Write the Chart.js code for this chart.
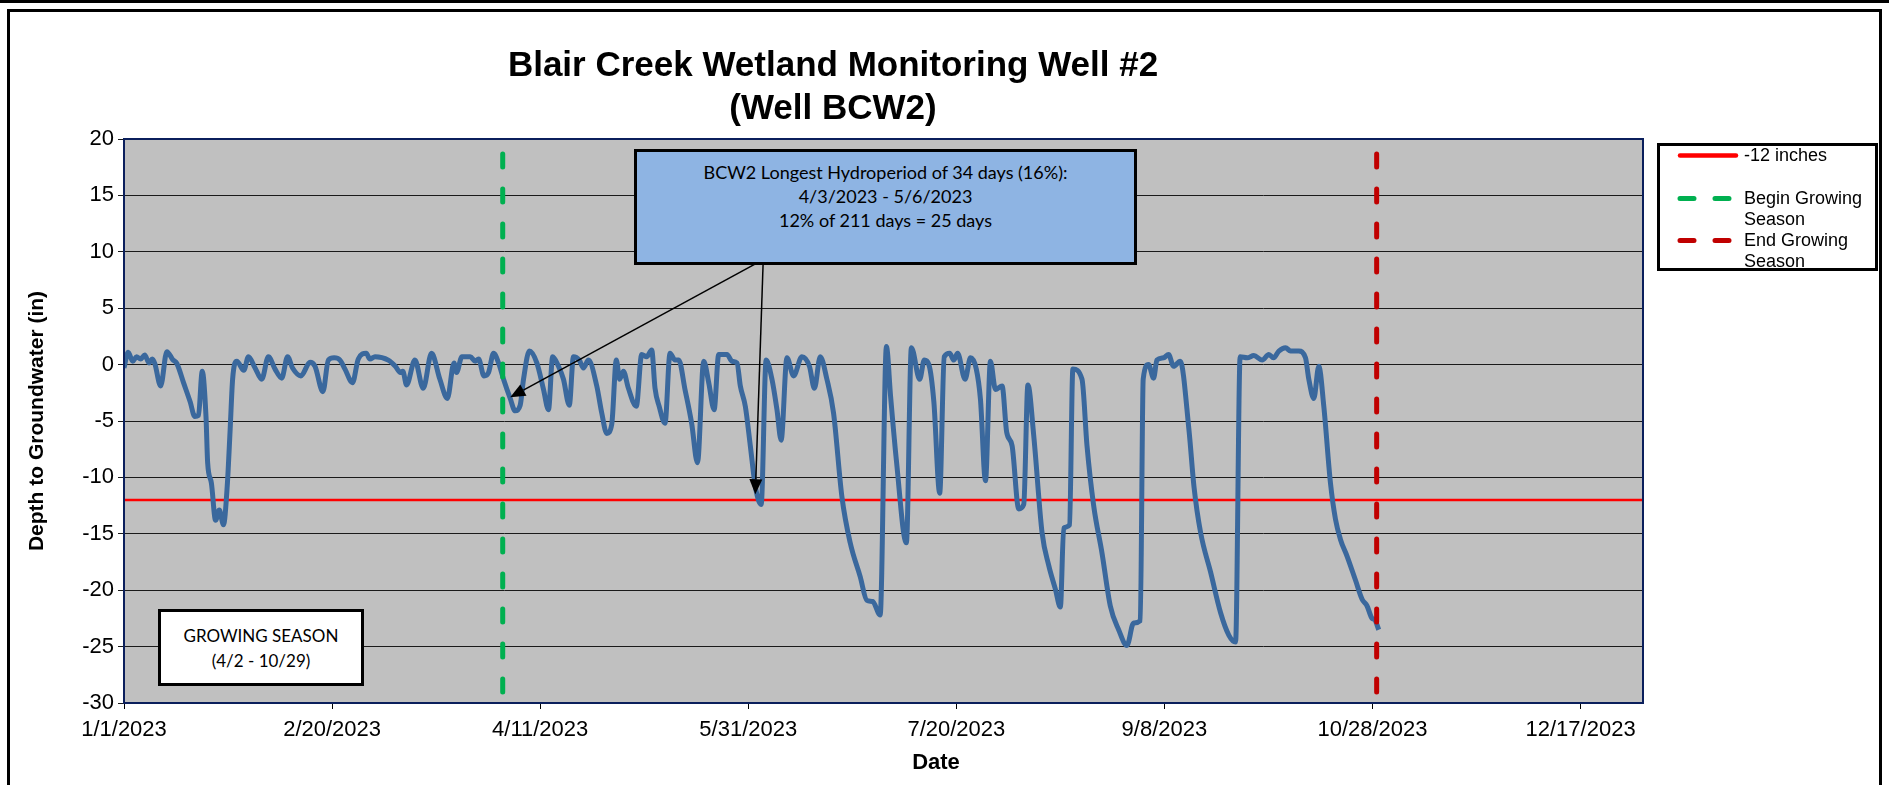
<!DOCTYPE html>
<html>
<head>
<meta charset="utf-8">
<title>Blair Creek Wetland Monitoring Well #2</title>
<script src="https://cdn.jsdelivr.net/npm/chart.js@4.4.1/dist/chart.umd.min.js"></script>
<style>
  html, body { margin: 0; padding: 0; background: #fff; overflow: hidden; }
  #wrap { position: relative; width: 1889px; height: 785px; }
  #chart { position: absolute; left: 0; top: 0; width: 1889px; height: 785px; }
  .ov { position: absolute; box-sizing: border-box; color: #000; }
  #topRule { left: 0; top: 0; width: 1889px; height: 3px; background: #000; }
  #frame { left: 7px; top: 9px; width: 1875px; height: 820px; border: 3px solid #000; }
  #title { left: 333px; top: 42px; width: 1000px; text-align: center;
           font: bold 35px/43px "Liberation Sans", Arial, sans-serif; }
  #callout { left: 634px; top: 149px; width: 503px; height: 116px; border: 3px solid #000;
             background: #8EB4E3; text-align: center; padding-top: 8px;
             font: 18px/24px Lato, "Open Sans", sans-serif; }
  #seasonBox { left: 158px; top: 609px; width: 206px; height: 77px; border: 3px solid #000;
               background: #fff; text-align: center; padding-top: 11px;
               font: 17px/25px Lato, "Open Sans", sans-serif; }
  #legend { left: 1657px; top: 143px; width: 221px; height: 128px; border: 3px solid #000; background: #fff; }
  .lg { position: absolute; left: 17px; font: 18px/21px "Liberation Sans", Arial, sans-serif; }
  .lg svg { position: absolute; left: 0; top: 0; }
  .lg span { position: absolute; left: 67px; top: 0; white-space: nowrap; }
  #xTitle { left: 886px; top: 749px; width: 100px; text-align: center;
            font: bold 22px/26px "Liberation Sans", Arial, sans-serif; }
</style>
</head>
<body>
<div id="wrap">
  <canvas id="chart" width="1889" height="785"></canvas>
  <div id="topRule" class="ov"></div>
  <div id="frame" class="ov"></div>
  <div id="title" class="ov"></div>
  <div id="callout" class="ov"></div>
  <div id="seasonBox" class="ov"></div>
  <div id="legend" class="ov"></div>
  <div id="xTitle" class="ov">Date</div>
</div>
<script>
// days since 1/1/2023 and depth to groundwater (in)
const baseDate = Date.UTC(2023, 0, 1);
const days = [
  0, 1, 2.1, 3, 4, 5, 6, 6.8, 7.4, 8.8, 10.3, 11.7, 12.7, 14.3, 15.9, 17, 17.9, 18.8, 19.7, 20.1,
  21, 22, 22.9, 23.9, 24.8, 25.5, 26.1, 27.1, 28.8, 29.9, 31.5, 33.1, 34.7, 36.3, 37.9, 39.3, 40.5, 42.5, 44.7, 45.9,
  47.8, 49.1, 50.5, 51.9, 53.1, 54.9, 56.3, 58.2, 59.1, 60.3, 63.5, 65.2, 66.4, 67, 67.9, 69.9, 71.9, 73.9, 75.9, 77.7,
  79.3, 79.9, 81.2, 83.2, 84.4, 85.2, 86.5, 87.6, 88.8, 90, 91.2, 92.8, 94, 95.2, 96, 97.4, 99.2, 100.8, 102, 103,
  104.4, 105.6, 107, 108, 109.4, 110.4, 111.6, 113.6, 114.8, 116, 117.2, 118.3, 119.1, 120, 121.2, 123.1, 124.4, 125.6, 126.8, 127.6,
  128.6, 130, 131.2, 132.4, 133.3, 134.8, 136.4, 137.8, 139.3, 140.5, 141.8, 142.9, 144.9, 146.1, 147.3, 148.1, 149.3, 150.5, 151.7, 153.1,
  154.3, 155.7, 156.9, 157.9, 159.3, 160.9, 162.9, 164.7, 165.9, 167.3, 168.9, 170.5, 172.5, 174.5, 176.9, 178.5, 179.9, 181.7, 183.2, 184.2,
  185.6, 188, 189.2, 191.2, 192.3, 193.4, 194.6, 196, 197.1, 198.4, 199.4, 200.3, 202.1, 203.4, 204.8, 205.8, 207, 208.2, 209.4, 211,
  212.1, 213.4, 215, 216.2, 217.2, 218.6, 220.6, 222.2, 223.8, 225, 225.8, 227.2, 228, 230.2, 231.4, 233, 235, 237, 239, 241,
  242.6, 244.2, 244.9, 246.2, 247.4, 248.2, 249.8, 251, 252.2, 253.8, 255.9, 257.1, 258.7, 261.1, 263.5, 265.5, 267.1, 268.2, 269.9, 271.5,
  273.5, 275.1, 276.2, 277.5, 279.1, 280.3, 282.3, 283.9, 284.7, 285.9, 287.1, 288.3, 289.9, 291.1, 292.3, 293.9, 295.9, 297.5, 298.7, 299.9,
  300.5, 301.5
];
const depth = [
  -0.3, 1.1, 0.3, 0.7, 0.5, 0.85, 0.15, 0.5, 0.1, -1.9, 1.15, 0.45, 0.1, -1.6, -3.3, -4.6, -4.5, -0.6, -4.6, -8.7,
  -10.5, -13.8, -12.9, -14.2, -10.8, -5.8, -1.3, 0.3, -0.5, 0.7, -0.3, -1.3, 0.7, -0.4, -1.2, 0.7, -0.3, -1.0, 0.2, -0.15,
  -2.4, 0.4, 0.6, 0.4, -0.4, -1.6, 0.5, 1.0, 0.5, 0.7, 0.4, -0.15, -0.7, -0.6, -1.8, 0.4, -2.1, 1.0, -1.3, -3.0,
  0.15, -0.7, 0.7, 0.7, 0.3, 0.5, -1.0, -0.7, 1.0, 0.15, -1.3, -3.0, -4.1, -3.6, -1.3, 1.2, 0.15, -2.2, -4.0, 0.7,
  -0.15, -1.3, -3.6, 0.7, 0.4, -0.3, 0.4, -1.9, -4.3, -6.1, -5.3, 0.4, -1.3, -0.6, -2.1, -3.7, 0.9, 0.7, 1.3, -2.1,
  -3.7, -5.2, 1.0, 0.4, 0.4, -2.2, -5.2, -8.7, 0.3, -1.6, -4.0, 0.9, 0.9, 0.3, 0.15, -1.9, -3.7, -7.2, -10.8, -12.4,
  0.4, -1.3, -4.0, -6.7, 0.6, -1.0, 0.7, -0.15, -2.1, 0.7, -1.3, -4.3, -11.7, -15.8, -18.8, -20.9, -21.0, -22.2, 1.6, -2.8,
  -8.5, -15.8, 1.5, -1.3, 0.4, 0.0, -3.3, -11.4, 0.7, 1.0, 0.4, 1.0, -1.3, 0.6, -0.4, -3.1, -10.3, 0.3, -2.2, -1.9,
  -6.0, -7.2, -12.8, -12.4, -1.8, -6.3, -14.9, -17.8, -19.9, -21.5, -14.5, -14.2, -0.4, -1.3, -7.2, -12.5, -16.7, -21.4, -23.5, -24.9,
  -22.9, -22.7, -1.3, 0.0, -1.2, 0.4, 0.6, 0.9, -0.15, 0.3, -5.8, -10.8, -14.9, -18.4, -22.0, -24.0, -24.6, 0.7, 0.6, 0.8,
  0.4, 0.9, 0.6, 1.2, 1.5, 1.2, 1.2, 0.6, -1.3, -3.0, -0.15, -3.7, -10.5, -13.7, -15.5, -17.0, -19.1, -20.8, -21.4, -22.5,
  -22.6, -23.5
];
// reference lines
const thresholdX = [0, 365];
const thresholdY = [-12, -12];
const beginSeasonDay = 91;   // 4/2/2023
const endSeasonDay = 301;    // 10/29/2023
const seasonSpan = [20, -30];
// axes
const xMin = 0, xMax = 365, xStep = 50;
const yMin = -30, yMax = 20, yStep = 5;
// annotation texts and arrow anchors (day, depth)
const titleLines = ['Blair Creek Wetland Monitoring Well #2', '(Well BCW2)'];
const calloutLines = ['BCW2 Longest Hydroperiod of 34 days (16%):', '4/3/2023 - 5/6/2023', '12% of 211 days = 25 days'];
const seasonLines = ['GROWING SEASON', '(4/2 - 10/29)'];
const arrowFrom = [153.6, 9.3];
const arrowTips = [[92.8, -2.9], [151.7, -11.5]];

function fmtDate(day) {
  const d = new Date(baseDate + Math.round(day) * 86400000);
  return (d.getUTCMonth() + 1) + '/' + d.getUTCDate() + '/' + d.getUTCFullYear();
}

document.getElementById('title').innerHTML = titleLines.join('<br>');
document.getElementById('callout').innerHTML = calloutLines.join('<br>');
document.getElementById('seasonBox').innerHTML = seasonLines.join('<br>');

const plotBg = {
  id: 'plotBg',
  beforeDraw(chart) {
    const { ctx, chartArea: a } = chart;
    ctx.save();
    ctx.fillStyle = '#C0C0C0';
    ctx.fillRect(a.left, a.top, a.right - a.left, a.bottom - a.top);
    ctx.restore();
  },
  afterDraw(chart) {
    const { ctx, chartArea: a } = chart;
    ctx.save();
    ctx.strokeStyle = '#0B1F5C';
    ctx.lineWidth = 2;
    ctx.strokeRect(a.left, a.top, a.right - a.left, a.bottom - a.top);
    ctx.restore();
  }
};

const calloutArrows = {
  id: 'calloutArrows',
  afterDatasetsDraw(chart) {
    const { ctx, scales: { x, y } } = chart;
    const x0 = x.getPixelForValue(arrowFrom[0]), y0 = y.getPixelForValue(arrowFrom[1]);
    ctx.save();
    ctx.strokeStyle = '#000';
    ctx.fillStyle = '#000';
    ctx.lineWidth = 1.5;
    arrowTips.forEach(t => {
      const x1 = x.getPixelForValue(t[0]), y1 = y.getPixelForValue(t[1]);
      const a = Math.atan2(y1 - y0, x1 - x0);
      const head = 15, half = 6.5;
      const bx = x1 - head * Math.cos(a), by = y1 - head * Math.sin(a);
      ctx.beginPath(); ctx.moveTo(x0, y0); ctx.lineTo(bx, by); ctx.stroke();
      ctx.beginPath();
      ctx.moveTo(x1, y1);
      ctx.lineTo(bx + half * Math.sin(a), by - half * Math.cos(a));
      ctx.lineTo(bx - half * Math.sin(a), by + half * Math.cos(a));
      ctx.closePath();
      ctx.fill();
    });
    ctx.restore();
  }
};

const dashStyle = { borderWidth: 5, borderDash: [13, 22], borderDashOffset: 20, borderCapStyle: 'round' };

const chart = new Chart(document.getElementById('chart'), {
  type: 'line',
  data: {
    datasets: [
      {
        label: 'BCW2',
        data: days.map((d, i) => ({ x: d, y: depth[i] })),
        borderColor: '#3A689D', borderWidth: 5, pointRadius: 0,
        cubicInterpolationMode: 'monotone', borderJoinStyle: 'round', order: 3, inLegend: false
      },
      {
        label: '-12 inches',
        data: thresholdX.map((d, i) => ({ x: d, y: thresholdY[i] })),
        borderColor: '#FF0000', borderWidth: 2.5, pointRadius: 0, order: 4
      },
      Object.assign({
        label: 'Begin Growing Season',
        data: seasonSpan.map(v => ({ x: beginSeasonDay, y: v })),
        borderColor: '#00B050', pointRadius: 0, order: 2
      }, dashStyle),
      Object.assign({
        label: 'End Growing Season',
        data: seasonSpan.map(v => ({ x: endSeasonDay, y: v })),
        borderColor: '#C00000', pointRadius: 0, order: 1
      }, dashStyle)
    ]
  },
  options: {
    responsive: false,
    animation: false,
    devicePixelRatio: 1,
    layout: { padding: { left: 0, top: 139, right: 246, bottom: 0 } },
    plugins: { legend: { display: false }, title: { display: false }, tooltip: { enabled: false } },
    scales: {
      x: {
        type: 'linear', min: xMin, max: xMax,
        afterFit: s => { s.height = 82; },
        afterBuildTicks: s => { s.ticks = s.ticks.filter(t => t.value % xStep === 0); },
        ticks: {
          stepSize: xStep, maxRotation: 0, autoSkip: false, padding: 8, color: '#000',
          font: { family: '"Liberation Sans", Arial', size: 22 },
          callback: v => fmtDate(v)
        },
        grid: { drawOnChartArea: false, tickLength: 6, color: '#000' },
        border: { color: '#0B1F5C', width: 2 }
      },
      y: {
        min: yMin, max: yMax,
        afterFit: s => { s.width = 124; },
        ticks: { stepSize: yStep, padding: 4, color: '#000', font: { family: '"Liberation Sans", Arial', size: 22 } },
        grid: { color: '#1a1a1a', lineWidth: 1, tickLength: 6 },
        border: { color: '#0B1F5C', width: 2 },
        title: {
          display: true, text: 'Depth to Groundwater (in)', color: '#000',
          font: { family: '"Liberation Sans", Arial', size: 21, weight: 'bold' },
          padding: { top: 25, bottom: 0 }
        }
      }
    }
  },
  plugins: [plotBg, calloutArrows]
});

// legend box built from the chart's own reference-line datasets
const legendEl = document.getElementById('legend');
chart.data.datasets.filter(ds => ds.inLegend !== false).forEach((ds, i) => {
  const row = document.createElement('div');
  row.className = 'lg';
  row.style.top = (-1 + i * 42.5) + 'px';
  const dash = ds.borderDash ? 'stroke-dasharray="14 21"' : '';
  const w = ds.borderDash ? 5 : 4.5;
  row.innerHTML = '<svg width="64" height="22"><line x1="3" y1="10.5" x2="59" y2="10.5" stroke="' + ds.borderColor +
    '" stroke-width="' + w + '" stroke-linecap="round" ' + dash + '/></svg>' +
    '<span>' + ds.label.replace(' Growing ', ' Growing<br>') + '</span>';
  legendEl.appendChild(row);
});
</script>
</body>
</html>
